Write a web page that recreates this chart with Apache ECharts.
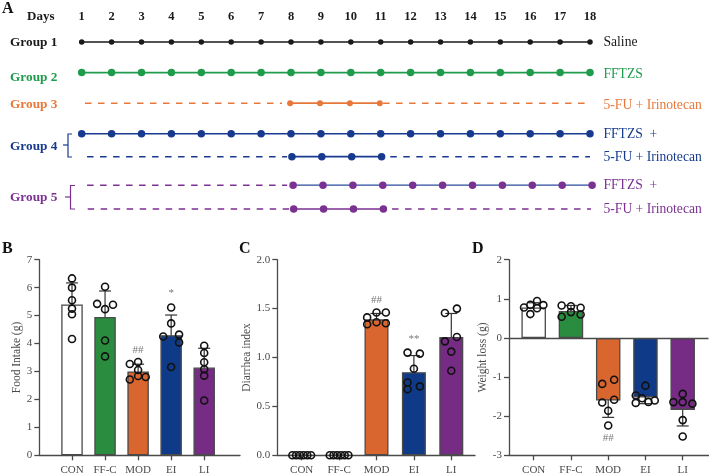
<!DOCTYPE html>
<html><head><meta charset="utf-8">
<style>html,body{margin:0;padding:0;background:#fff}#c{width:709px;height:473px}</style>
<script src="https://cdn.jsdelivr.net/npm/echarts@6/dist/echarts.min.js"></script>
</head><body><div id="c"></div>
<script>
// ---------- Panel A data ----------
const days = [1,2,3,4,5,6,7,8,9,10,11,12,13,14,15,16,17,18];
const allDays = days;
const midDays = [8,9,10,11];
const saline   = {lane:0,    color:'#1a1a1a', size:5.5, dots:allDays, shift:0,    dashes:[]};
const ffGreen  = {lane:1,    color:'#1f9b4c', size:7.5, dots:allDays, shift:0,    dashes:[]};
const fuOrange = {lane:2,    color:'#e8773a', size:6, dots:midDays, shift:-0.03,dashes:[[1.11,7.7],[11.08,18.17]]};
const ffBlue   = {lane:3,    color:'#173a8f', size:7.5, dots:allDays, shift:0,    dashes:[]};
const fuBlue   = {lane:3.75, color:'#173a8f', size:7.5, dots:midDays, shift:0.03, dashes:[[1.18,7.87],[11.32,18]]};
const ffPurple = {lane:4.68, color:'#7b3191', size:7.5, dots:allDays, shift:0.07, dashes:[[1.18,7.87]], dotsFrom:8, line:'#2b4d9c', thin:true};
const fuPurple = {lane:5.46, color:'#7b3191', size:7.5, dots:midDays, shift:0.09, dashes:[[1.2,7.97],[11.38,18.07]]};
const lanes = [saline, ffGreen, fuOrange, ffBlue, fuBlue, ffPurple, fuPurple];
const groupNames = ['Group 1','Group 2','Group 3','Group 4','Group 5'];
const regimenNames = ['Saline','FFTZS','5-FU + Irinotecan','FFTZS  +','5-FU + Irinotecan','FFTZS  +','5-FU + Irinotecan'];

// ---------- Bar panels data ----------
const categories = ['CON','FF-C','MOD','EI','LI'];
const barColors = ['#ffffff','#2a8c3f','#d9652f','#0f3a88','#762b84'];

const foodMeans = [5.4,4.95,3.0,4.3,3.14];
const foodLow   = [4.63,4.02,2.74,3.58,2.45];
const foodHigh  = [6.17,5.88,3.26,5.02,3.83];
const foodDots  = [
 [[0,6.33],[0,6.0],[0,5.55],[0,5.25],[0,5.05],[0,4.16]],
 [[0,6.03],[-0.24,5.42],[0.24,5.39],[0,5.23],[0,4.11],[0,3.54]],
 [[-0.25,3.27],[0,3.34],[0,3.05],[0,2.84],[-0.25,2.71],[0.23,2.8]],
 [[0,5.29],[0,4.72],[-0.24,4.25],[0.24,4.32],[0.24,4.04],[0,3.16]],
 [[0,3.92],[0,3.66],[0,3.33],[0,3.08],[0,2.85],[0,1.96]]
];
const foodMarks = [[2,3.78,'##'],[3,5.8,'*']];

const stoolMeans = [0,0,1.39,0.85,1.21];
const stoolLow   = [0,0,1.33,0.68,0.97];
const stoolHigh  = [0,0,1.45,1.02,1.45];
const stoolDots  = [
 [[-0.25,0],[-0.15,0],[-0.05,0],[0.05,0],[0.15,0],[0.25,0]],
 [[-0.25,0],[-0.15,0],[-0.05,0],[0.05,0],[0.15,0],[0.25,0]],
 [[-0.25,1.41],[0,1.46],[0.25,1.46],[-0.25,1.34],[0,1.36],[0.25,1.35]],
 [[-0.17,1.05],[0.16,1.04],[0,0.885],[-0.17,0.745],[-0.17,0.675],[0.16,0.705]],
 [[-0.17,1.455],[0.15,1.5],[0.15,1.21],[-0.17,1.165],[0,1.06],[0,0.865]]
];
const stoolMarks = [[2,1.59,'##'],[3,1.185,'**']];

const weightMeans = [0.78,0.69,-1.6,-1.52,-1.84];
const weightLow   = [0.66,0.55,-2.03,-1.68,-2.25];
const weightHigh  = [0.9,0.83,-1.17,-1.36,-1.44];
const weightDots  = [
 [[-0.26,0.78],[-0.09,0.85],[0.09,0.945],[0.26,0.84],[0.09,0.76],[-0.09,0.61]],
 [[-0.25,0.83],[0,0.81],[0.26,0.77],[-0.25,0.54],[0,0.66],[0.26,0.6]],
 [[-0.16,-1.175],[0.16,-1.07],[-0.16,-1.65],[0.16,-1.58],[0,-1.86],[0,-2.24]],
 [[0,-1.22],[-0.26,-1.47],[-0.09,-1.54],[0.08,-1.635],[0.25,-1.6],[-0.26,-1.66]],
 [[0,-1.43],[-0.25,-1.64],[0,-1.64],[0.26,-1.68],[0,-2.1],[0,-2.52]]
];
const weightMarks = [[2,-2.56,'##']];

// ---------- Build ----------
const serif = '"Liberation Serif","Times New Roman",serif';
const axisColor = '#4a4a4a';
const grid=[], xAxis=[], yAxis=[], series=[], graphic=[];

grid.push({outerBoundsMode:'none',left:81.7,right:709-590,top:42,bottom:473-209});
xAxis.push({type:'value',gridIndex:0,position:'top',min:1,max:18,interval:1,
  axisLine:{show:false},axisTick:{show:false},splitLine:{show:false},
  axisLabel:{margin:19,fontFamily:serif,fontWeight:'bold',fontSize:12.5,color:'#1a1a1a',hideOverlap:false}});
yAxis.push({type:'value',gridIndex:0,inverse:true,min:0,max:5.46,show:false,splitLine:{show:false}});
lanes.forEach(l=>{
  let pts=l.dots.filter(d=>!l.dotsFrom||d>=l.dotsFrom).map(d=>[d+l.shift,l.lane]);
  series.push({type:'line',xAxisIndex:0,yAxisIndex:0,clip:false,silent:true,animation:false,data:pts,
    symbol:'circle',symbolSize:l.size,showSymbol:true,
    itemStyle:{color:l.color},
    lineStyle:{color:l.line||l.color,width:l.thin?1.2:1.7}});
  l.dashes.forEach(s=>{
    series.push({type:'line',xAxisIndex:0,yAxisIndex:0,clip:false,silent:true,animation:false,
      data:[[s[0],l.lane],[s[1],l.lane]],symbol:'none',
      lineStyle:{color:l.color,width:1.5,type:[6.5,6.5]}});
  });
});
const rowTop=[43,78,105.5,147,198.5];
const groupColors=['#1a1a1a','#1f9b4c','#e8773a','#173a8f','#7b3191'];
groupNames.forEach((t,i)=>graphic.push({type:'text',left:10,top:rowTop[i]-7,
  style:{text:t,fill:groupColors[i],font:'bold 13.3px '+serif}}));
graphic.push({type:'text',left:27,top:10,style:{text:'Days',fill:'#1a1a1a',font:'bold 13px '+serif}});
const regimenY=[42,74,105,134,157,185,209];
regimenNames.forEach((t,i)=>graphic.push({type:'text',left:603.5,top:regimenY[i]-7,
  style:{text:t,fill:lanes[i].color,font:'13.6px '+serif}}));
[[[72,134],[68,134],[68,157],[72,157]],[[63,145],[68,145]],
 ].forEach(p=>graphic.push({type:'polyline',shape:{points:p},style:{stroke:'#173a8f',lineWidth:1.2,fill:null}}));
[[[75,185.5],[70.5,185.5],[70.5,209],[75,209]],[[65,197],[70.5,197]],
 ].forEach(p=>graphic.push({type:'polyline',shape:{points:p},style:{stroke:'#7b3191',lineWidth:1.2,fill:null}}));
[['A',2,1],['B',2,241],['C',239,241],['D',472,241]].forEach(a=>
  graphic.push({type:'text',left:a[1],top:a[2],style:{text:a[0],fill:'#111',font:'bold 16px '+serif}}));

function panel(o){
  const g=grid.length;
  const band=o.spacing;
  grid.push({outerBoundsMode:'none',left:o.left,width:o.right-o.left,top:259.7,height:195.6});
  xAxis.push({type:'value',gridIndex:g,
    min:-(o.c0-o.left)/band,max:(o.right-o.c0)/band,
    splitLine:{show:false},
    axisLine:{onZero:false,lineStyle:{color:axisColor,width:1.3}},
    axisTick:{length:5,customValues:[0,1,2,3,4],lineStyle:{color:axisColor,width:1.3}},
    axisLabel:{customValues:[0,1,2,3,4],formatter:v=>categories[v],margin:9.5,
      fontFamily:serif,fontSize:11,color:axisColor}});
  yAxis.push({type:'value',gridIndex:g,min:o.min,max:o.max,interval:o.interval,
    name:o.name,nameLocation:'middle',nameGap:o.nameGap,
    nameTextStyle:{fontFamily:serif,fontSize:11.5,color:axisColor},
    splitLine:{show:false},
    axisLine:{onZero:false,show:true,lineStyle:{color:axisColor,width:1.3}},
    axisTick:{show:true,length:5,lineStyle:{color:axisColor,width:1.3}},
    axisLabel:{margin:7,fontFamily:serif,fontSize:11,color:axisColor,
      formatter:o.fmt||(v=>String(v))}});
  const bar={type:'bar',xAxisIndex:g,yAxisIndex:g,barWidth:o.barWidth,silent:true,animation:false,
    data:o.means.map((v,i)=>({value:[i,v],itemStyle:{color:barColors[i]}})),
    itemStyle:{borderColor:axisColor,borderWidth:1.3}};
  if(o.zeroLine) bar.markLine={silent:true,symbol:'none',animation:false,label:{show:false},
    lineStyle:{color:axisColor,width:1.3,type:'solid'},data:[{yAxis:0}]};
  series.push(bar);
  series.push({type:'custom',xAxisIndex:g,yAxisIndex:g,silent:true,animation:false,clip:false,
    data:o.means.map((v,i)=>[i,o.low[i],o.high[i]]),
    encode:{x:0,y:[1,2]},
    renderItem:(p,api)=>{
      const a=api.coord([api.value(0),api.value(1)]),b=api.coord([api.value(0),api.value(2)]);
      const st={stroke:'#333',lineWidth:1.2,fill:null};
      const w=6;
      return {type:'group',children:[
        {type:'line',shape:{x1:a[0],y1:a[1],x2:b[0],y2:b[1]},style:st},
        {type:'line',shape:{x1:a[0]-w,y1:a[1],x2:a[0]+w,y2:a[1]},style:st},
        {type:'line',shape:{x1:b[0]-w,y1:b[1],x2:b[0]+w,y2:b[1]},style:st}]};
    }});
  const pts=[];
  o.dots.forEach((arr,i)=>arr.forEach(d=>pts.push([i+d[0],d[1]])));
  series.push({type:'scatter',xAxisIndex:g,yAxisIndex:g,clip:false,silent:true,animation:false,
    data:pts,symbol:'circle',symbolSize:7,
    itemStyle:{color:'rgba(255,255,255,0)',borderColor:'#111',borderWidth:1.6,opacity:1}});
  series.push({type:'scatter',xAxisIndex:g,yAxisIndex:g,clip:false,silent:true,animation:false,
    data:o.marks.map(m=>({value:[m[0],m[1]],label:{formatter:m[2]}})),symbolSize:0,
    label:{show:true,position:'inside',fontFamily:serif,fontSize:11,color:'#555'}});
}
panel({left:39.3,right:240,c0:72,spacing:33.05,barWidth:21.5,min:0,max:7,interval:1,
  name:'Food Intake (g)',nameGap:14,means:foodMeans,low:foodLow,high:foodHigh,dots:foodDots,marks:foodMarks});
panel({left:277.3,right:475,c0:301.7,spacing:37.4,barWidth:24,min:0,max:2,interval:0.5,
  name:'Diarrhea index',nameGap:11,fmt:v=>v.toFixed(1),means:stoolMeans,low:stoolLow,high:stoolHigh,dots:stoolDots,marks:stoolMarks});
panel({left:509,right:708.5,c0:533.7,spacing:37.25,barWidth:24.5,min:-3,max:2,interval:1,zeroLine:true,
  name:'Weight loss (g)',nameGap:12,means:weightMeans,low:weightLow,high:weightHigh,dots:weightDots,marks:weightMarks});

const chart=echarts.init(document.getElementById('c'),null,{renderer:'canvas'});
chart.setOption({animation:false,backgroundColor:'#fff',grid,xAxis,yAxis,series,graphic});
</script></body></html>
